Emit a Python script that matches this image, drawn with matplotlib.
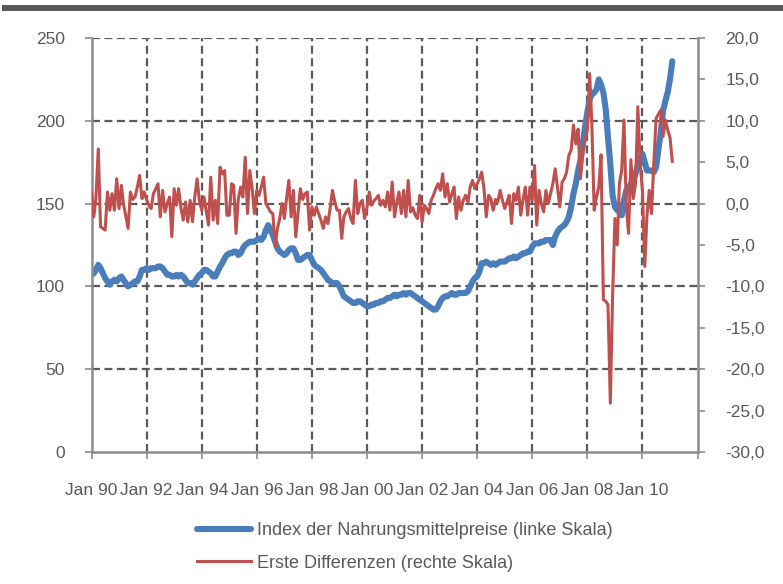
import matplotlib.pyplot as plt
import matplotlib.patches as mpatches
import numpy as np
import pandas as pd

# Daten (monatlich, Jan 1990 - Feb 2011)
index_preise = [
    107, 108, 110, 113, 111, 108, 105, 103, 101, 103, 104, 103,   # 1990
    105, 106, 104, 102, 100, 101, 102, 103, 103, 106, 110, 110,   # 1991
    111, 110, 111, 111, 111, 112, 112, 111, 109, 107, 107, 106,   # 1992
    106, 107, 106, 107, 106, 104, 102, 102, 101, 103, 105, 107,   # 1993
    108, 110, 110, 109, 108, 106, 106, 109, 112, 114, 117, 119,   # 1994
    120, 120, 121, 121, 119, 120, 123, 125, 126, 127, 127, 127,   # 1995
    128, 129, 128, 130, 134, 137, 134, 131, 127, 123, 121, 120,   # 1996
    119, 120, 122, 123, 123, 120, 116, 116, 117, 118, 119, 119,   # 1997
    116, 113, 112, 111, 110, 108, 106, 104, 103, 102, 102, 102,   # 1998
    100, 97, 94, 93, 92, 91, 90, 90, 91, 91, 90, 89,              # 1999
    88, 88, 89, 89, 90, 90, 91, 91, 92, 93, 93, 94,               # 2000
    95, 94, 95, 95, 96, 95, 96, 96, 95, 94, 93, 92,               # 2001
    91, 90, 89, 88, 87, 86, 86, 88, 91, 93, 94, 94,               # 2002
    95, 96, 95, 95, 96, 96, 96, 96, 97, 100, 103, 105,            # 2003
    106, 109, 114, 114, 115, 114, 113, 114, 113, 114, 115, 115,   # 2004
    115, 116, 117, 117, 118, 117, 118, 119, 120, 120, 121, 121,   # 2005
    124, 126, 126, 126, 127, 127, 128, 128, 128, 125, 130, 133,   # 2006
    135, 136, 137, 139, 142, 148, 156, 162, 170, 176, 186, 196,   # 2007
    205, 213, 216, 217, 219, 225, 222, 217, 207, 190, 174, 155,   # 2008
    148, 146, 145, 143, 152, 158, 159, 162, 164, 168, 173, 178,   # 2009
    180, 175, 170, 170, 170, 169, 172, 183, 193, 206, 212, 217,   # 2010
    225, 236,                                                     # 2011
]

erste_diff = [
    1.4, -1.6, 0.8, 6.6, -2.8, -3.0, -3.2, 1.4, -0.8, 1.2, -0.8, 3.0,      # 1990
    -0.6, 2.2, 0.0, -1.5, -3.0, 1.4, 0.5, 0.8, 2.0, 3.4, 0.6, 1.4,         # 1991
    0.5, -0.2, -0.6, 1.2, 1.8, 2.4, -1.6, 1.6, -1.0, 0.0, 0.8, -4.0,       # 1992
    1.8, -0.2, 1.8, -0.5, -2.0, 0.2, -2.2, 0.4, -2.2, 0.8, 3.0, 0.4,       # 1993
    -0.8, 0.8, -0.8, -2.6, 3.2, -2.0, 0.4, -2.4, 4.4, 3.6, 4.0, -1.4,      # 1994
    -1.4, 2.4, 2.2, -3.6, 0.5, 2.0, 0.8, 5.6, -1.2, 4.0, 1.8, -1.2,        # 1995
    1.6, 1.0, 2.0, 3.2, 0.0, -0.5, -1.0, -1.2, -5.2, -3.0, -1.8, 0.0,      # 1996
    -1.8, 0.8, 2.8, -1.6, 1.6, -4.0, -1.2, 1.8, 0.5, 1.2, 1.4, -3.2,       # 1997
    -0.4, -1.4, -0.4, -1.2, -2.0, -3.0, -1.6, -2.4, -0.5, 1.6, 0.2, -0.8,  # 1998
    -0.8, -4.2, -1.6, -1.0, -0.6, -1.8, -2.4, 2.8, -1.2, 0.0, 0.4, -1.8,   # 1999
    -0.5, 1.4, -0.2, 0.3, 0.6, 1.0, -0.2, 0.4, -0.4, 1.4, -0.8, 2.6,       # 2000
    -1.6, 0.2, 1.4, -1.2, 1.6, -1.6, 2.8, -1.0, -0.5, -1.4, -1.8, 1.0,     # 2001
    -2.2, -0.2, -0.6, -1.2, 0.4, 1.0, 1.8, 2.4, 1.6, 3.6, 0.8, 2.4,        # 2002
    0.2, 1.2, 2.0, -1.8, 0.8, -0.8, 0.4, 1.0, 0.2, 2.0, 2.8, 1.8,          # 2003
    2.4, 3.0, 3.8, 1.8, -1.6, 1.0, 0.6, -0.8, 0.5, 0.2, 1.6, 0.4,          # 2004
    -0.6, 0.2, 1.0, -2.4, 1.2, 0.4, 2.0, -1.4, 0.5, 2.0, -1.4, 2.0,        # 2005
    0.4, 4.6, -2.6, 1.6, 0.0, -1.0, 1.6, 0.0, 1.2, 2.4, 4.2, 2.0,          # 2006
    -0.4, 2.6, 3.0, 3.8, 5.8, 6.5, 9.5, 7.2, 9.0, 3.0, 5.8, 7.6,           # 2007
    8.9, 15.7, 9.7, -0.8, 0.8, 2.0, 5.9, -11.6, -11.8, -12.2, -24.1, -11.2,  # 2008
    -1.8, -5.0, 2.4, 4.0, 10.1, -0.4, -3.6, 5.3, 0.6, 2.4, 11.7, 4.9,      # 2009
    1.6, -7.6, -1.6, 1.6, -1.2, 4.9, 10.3, 10.8, 11.3, 8.1, 10.1, 8.9,     # 2010
    8.0, 5.1,                                                              # 2011
]

x_labels = ['Jan 90', 'Jan 92', 'Jan 94', 'Jan 96', 'Jan 98', 'Jan 00',
            'Jan 02', 'Jan 04', 'Jan 06', 'Jan 08', 'Jan 10', '']
left_ticks = [0, 50, 100, 150, 200, 250]
right_ticks = [-30, -25, -20, -15, -10, -5, 0, 5, 10, 15, 20]

label_blau = 'Index der Nahrungsmittelpreise (linke Skala)'
label_rot = 'Erste Differenzen (rechte Skala)'

monate = pd.date_range('1990-01-01', periods=len(index_preise), freq='MS')
x_ticks = pd.date_range('1990-01-01', '2012-01-01', freq='24MS')

plt.rcParams['font.family'] = ['Liberation Sans', 'DejaVu Sans']
grau = '#595959'
achse = '#8c8c8c'
blau = '#4a7ebb'
rot = '#c0504d'

fig = plt.figure(figsize=(7.83, 5.84), dpi=100)
ax = fig.add_axes([91.5 / 783, 1 - 452 / 584, 606 / 783, 414 / 584])
ax2 = ax.twinx()

# Balken oben
fig.add_artist(mpatches.Rectangle((2 / 783, 1 - 11 / 584), 1, 6 / 584,
                                  transform=fig.transFigure, color=grau, lw=0))

l1, = ax.plot(monate, index_preise, color=blau, lw=4.4, solid_capstyle='round')
l2, = ax2.plot(monate, erste_diff, color=rot, lw=2.2)

ax.set_xlim(x_ticks[0], x_ticks[-1])
ax.set_ylim(0, 250)
ax2.set_ylim(-30, 20)

ax.set_xticks(x_ticks)
ax.set_xticklabels(x_labels)
ax.set_yticks(left_ticks)
ax.set_yticklabels([str(v) for v in left_ticks])
ax2.set_yticks(right_ticks)
ax2.set_yticklabels([f'{v},0' for v in right_ticks])

ax.grid(True, color='#5a5a5a', linestyle=(0, (3.6, 2.0)), linewidth=1.6)
# keine Gitterlinien auf den Achsen selbst
ax.yaxis.get_gridlines()[0].set_visible(False)
ax.xaxis.get_gridlines()[0].set_visible(False)
ax.xaxis.get_gridlines()[-1].set_visible(False)

for s in ['top', 'right']:
    ax.spines[s].set_visible(False)
for s in ['top', 'left', 'bottom']:
    ax2.spines[s].set_visible(False)
for sp in [ax.spines['left'], ax.spines['bottom'], ax2.spines['right']]:
    sp.set_color(achse)
    sp.set_linewidth(1.8)

ax.tick_params(axis='x', direction='out', length=5, width=1.2, color=achse,
               labelsize=12.5, labelcolor=grau, pad=17)
ax.tick_params(axis='y', direction='out', length=5, width=1.2, color=achse,
               labelsize=12.5, labelcolor=grau, pad=14)
ax2.tick_params(axis='y', direction='out', length=5, width=1.2, color=achse,
                labelsize=12.5, labelcolor=grau, pad=15)

fig.legend([l1, l2], [label_blau, label_rot], loc='upper left',
           bbox_to_anchor=(190 / 783, 1 - 515 / 584), frameon=False,
           fontsize=13, labelcolor=grau, handlelength=3.0,
           handletextpad=0.3, labelspacing=0.85, borderaxespad=0)

fig.savefig('out.png', dpi=100)
